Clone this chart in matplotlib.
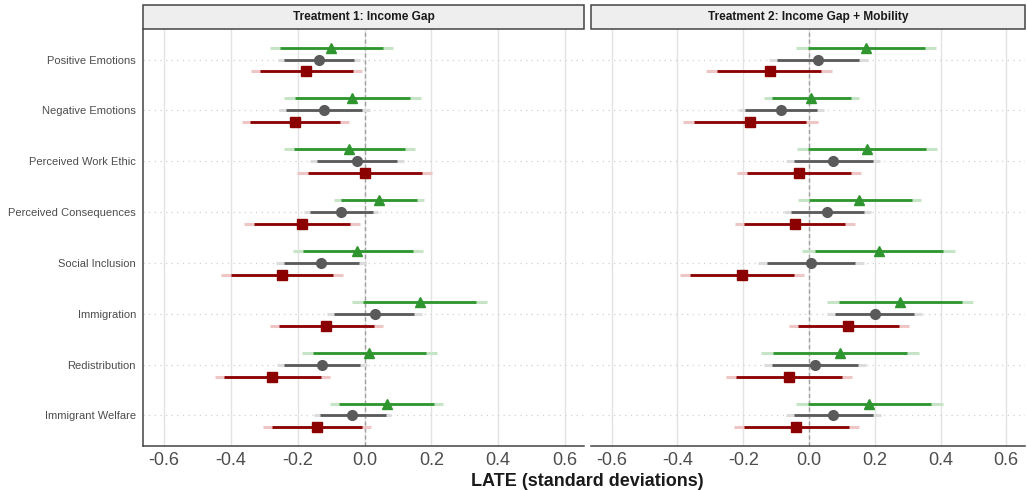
import numpy as np
import matplotlib
matplotlib.use("Agg")
import matplotlib.pyplot as plt
from matplotlib.patches import Rectangle

plt.rcParams['font.family'] = ['Liberation Sans', 'DejaVu Sans']

outcomes = ["Positive Emotions", "Negative Emotions", "Perceived Work Ethic",
            "Perceived Consequences", "Social Inclusion", "Immigration",
            "Redistribution", "Immigrant Welfare"]
panels = ["Treatment 1: Income Gap", "Treatment 2: Income Gap + Mobility"]

# point estimates per panel, one entry per outcome
t1_green = [-0.100, -0.037, -0.045, 0.043, -0.021, 0.166, 0.014, 0.066]
t1_gray = [-0.135, -0.120, -0.023, -0.069, -0.131, 0.030, -0.127, -0.036]
t1_red = [-0.175, -0.208, 0.000, -0.187, -0.246, -0.114, -0.276, -0.141]
t2_green = [0.174, 0.007, 0.176, 0.153, 0.213, 0.278, 0.094, 0.183]
t2_gray = [0.028, -0.085, 0.074, 0.056, 0.007, 0.200, 0.018, 0.074]
t2_red = [-0.120, -0.180, -0.030, -0.042, -0.204, 0.120, -0.060, -0.039]

# inner (90%) intervals: (low, high)
t1_green_in = [(-0.254, 0.055), (-0.207, 0.135), (-0.210, 0.120), (-0.069, 0.158),
               (-0.185, 0.145), (-0.004, 0.334), (-0.155, 0.184), (-0.076, 0.207)]
t1_gray_in = [(-0.240, -0.031), (-0.234, -0.006), (-0.142, 0.096), (-0.162, 0.024),
              (-0.242, -0.017), (-0.090, 0.149), (-0.240, -0.013), (-0.132, 0.063)]
t1_red_in = [(-0.312, -0.034), (-0.342, -0.072), (-0.169, 0.171), (-0.332, -0.042),
             (-0.401, -0.094), (-0.256, 0.028), (-0.420, -0.131), (-0.277, -0.007)]
t2_green_in = [(-0.003, 0.353), (-0.113, 0.129), (-0.002, 0.356), (-0.001, 0.312),
               (0.018, 0.407), (0.090, 0.465), (-0.108, 0.297), (-0.002, 0.370)]
t2_gray_in = [(-0.097, 0.153), (-0.194, 0.024), (-0.047, 0.194), (-0.056, 0.168),
              (-0.128, 0.141), (0.079, 0.320), (-0.111, 0.148), (-0.046, 0.195)]
t2_red_in = [(-0.281, 0.038), (-0.351, -0.008), (-0.189, 0.128), (-0.197, 0.111),
             (-0.361, -0.045), (-0.033, 0.275), (-0.222, 0.101), (-0.198, 0.122)]

# outer (95%) intervals
t1_green_out = [(-0.284, 0.086), (-0.240, 0.168), (-0.240, 0.150), (-0.090, 0.179),
                (-0.215, 0.176), (-0.036, 0.366), (-0.187, 0.216), (-0.103, 0.235)]
t1_gray_out = [(-0.259, -0.012), (-0.256, 0.016), (-0.164, 0.118), (-0.180, 0.041),
               (-0.264, 0.003), (-0.112, 0.171), (-0.261, 0.008), (-0.152, 0.080)]
t1_red_out = [(-0.339, -0.007), (-0.367, -0.046), (-0.201, 0.203), (-0.361, -0.014),
              (-0.429, -0.064), (-0.282, 0.055), (-0.447, -0.103), (-0.303, 0.018)]
t2_green_out = [(-0.038, 0.387), (-0.137, 0.152), (-0.037, 0.390), (-0.033, 0.341),
                (-0.020, 0.444), (0.055, 0.500), (-0.146, 0.335), (-0.039, 0.407)]
t2_gray_out = [(-0.122, 0.179), (-0.214, 0.045), (-0.071, 0.217), (-0.077, 0.188),
               (-0.155, 0.167), (0.056, 0.345), (-0.138, 0.172), (-0.071, 0.218)]
t2_red_out = [(-0.312, 0.069), (-0.384, 0.026), (-0.220, 0.158), (-0.226, 0.140),
              (-0.391, -0.016), (-0.062, 0.305), (-0.252, 0.131), (-0.229, 0.153)]

ticks = [-0.6, -0.4, -0.2, 0.0, 0.2, 0.4, 0.6]

# colour, light colour, marker, marker size, vertical offset
styles = {
    "green": ("#2f962f", "#c6e5c6", "^", 7.8, -0.235),
    "gray": ("#5a5a5a", "#dcdcdc", "o", 7.0, 0.0),
    "red": ("#8b0000", "#efc6c6", "s", 7.2, 0.235),
}

panel_data = [
    {"green": (t1_green, t1_green_in, t1_green_out),
     "gray": (t1_gray, t1_gray_in, t1_gray_out),
     "red": (t1_red, t1_red_in, t1_red_out)},
    {"green": (t2_green, t2_green_in, t2_green_out),
     "gray": (t2_gray, t2_gray_in, t2_gray_out),
     "red": (t2_red, t2_red_in, t2_red_out)},
]

W, H = 1027, 490
fig = plt.figure(figsize=(W / 100, H / 100), dpi=100)

boxes = [(143, 584), (591, 1025)]
top, bottom = 29, 446
ypos = np.arange(len(outcomes))

for k, (x0, x1) in enumerate(boxes):
    ax = fig.add_axes([x0 / W, 1 - bottom / H, (x1 - x0) / W, (bottom - top) / H])
    ax.set_xlim(-0.663, 0.657)
    ax.set_ylim(len(outcomes) - 0.4, -0.6)
    for t in ticks:
        ax.axvline(t, color="#e3e3e3", lw=1.0, zorder=0)
    for y in ypos:
        ax.axhline(y, color="#d0d0d0", lw=0.9, ls=(0, (1, 3.5)), zorder=0)
    ax.axvline(0, color="#a0a0a0", lw=1.0, ls=(0, (3, 2)), zorder=1)

    for key in ["green", "gray", "red"]:
        col, light, mk, ms, off = styles[key]
        est, inner, outer = panel_data[k][key]
        yy = ypos + off
        for y, lo_hi in zip(yy, outer):
            ax.plot(lo_hi, [y, y], color=light, lw=2.2, solid_capstyle="butt", zorder=2)
        for y, lo_hi in zip(yy, inner):
            ax.plot(lo_hi, [y, y], color=col, lw=2.0, solid_capstyle="butt", zorder=3)
        ax.plot(est, yy, ls="none", marker=mk, ms=ms, color=col, mec=col, zorder=4)

    ax.set_xticks(ticks)
    ax.set_xticklabels(["%.1f" % t if t != 0 else "0.0" for t in ticks])
    ax.tick_params(axis="x", length=0, labelsize=13, labelcolor="#4d4d4d", pad=4)
    ax.set_yticks(ypos)
    if k == 0:
        ax.set_yticklabels(outcomes)
        ax.tick_params(axis="y", length=0, labelsize=8, labelcolor="#4d4d4d", pad=5)
    else:
        ax.set_yticklabels([])
        ax.tick_params(axis="y", length=0)
    for s in ["top", "right"]:
        ax.spines[s].set_visible(False)
    ax.spines["left"].set_visible(k == 0)
    ax.spines["left"].set_color("#444444")
    ax.spines["bottom"].set_color("#444444")
    ax.spines["left"].set_linewidth(1.1)
    ax.spines["bottom"].set_linewidth(1.1)

    # facet strip
    sax = fig.add_axes([x0 / W, 1 - top / H, (x1 - x0) / W, 24 / H])
    sax.set_xlim(0, 1)
    sax.set_ylim(0, 1)
    sax.axis("off")
    sax.add_patch(Rectangle((0, 0), 1, 1, facecolor="#eeeeee", edgecolor="#444444",
                            lw=1.1, clip_on=False))
    sax.text(0.5, 0.5, panels[k], ha="center", va="center", fontsize=8.6,
             fontweight="bold", color="#1a1a1a")

fig.text(587 / W, 1 - 481 / H, "LATE (standard deviations)", ha="center", va="center",
         fontsize=13, fontweight="bold", color="#1a1a1a")

fig.savefig("out.png", dpi=100)
